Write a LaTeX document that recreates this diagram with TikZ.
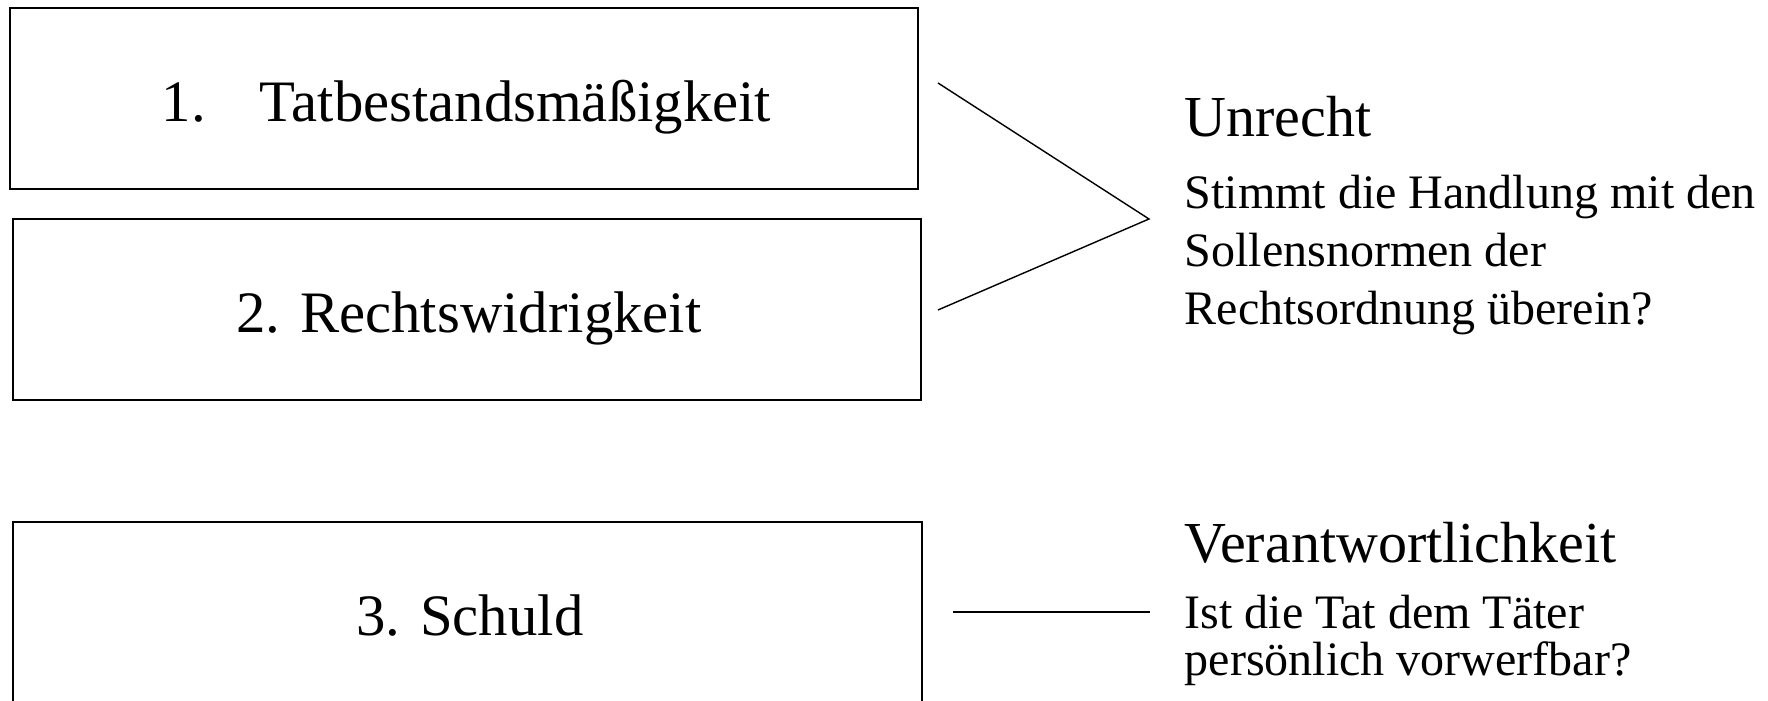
\documentclass[tikz,border=0pt]{standalone}
\usepackage{fontspec}
\setmainfont{Liberation Serif}
\begin{document}
\begin{tikzpicture}[x=0.01cm,y=-0.01cm,
  box/.style={draw, line width=0.45pt, rectangle, minimum width=9.08cm, minimum height=1.81cm, inner sep=0pt},
  big/.style={font=\fontsize{16.7pt}{20pt}\selectfont, inner sep=0pt},
  head/.style={font=\fontsize{16.5pt}{20pt}\selectfont, inner sep=0pt, anchor=base west},
  body/.style={font=\fontsize{13.66pt}{16pt}\selectfont, inner sep=0pt, anchor=base west},
  conn/.style={line width=0.4pt}]
\useasboundingbox (0,0) rectangle (1768,701);
\clip (0,0) rectangle (1768,701);
\fill[white] (0,0) rectangle (1768,701);
% boxes
\node[box] (b1) at (464,98.5) {};
\node[box] (b2) at (467,309.5) {};
\node[box] (b3) at (467.5,612.5) {};
% box texts
\node[big, anchor=base west] (t1) at (161,122) {1.\hspace{0.54cm}Tatbestandsmäßigkeit};
\node[big, anchor=base] (t2) at (469,333) {2. Rechtswidrigkeit};
\node[big, anchor=base] (t3) at (470,636) {3. Schuld};
% right texts
\node[head] (h1) at (1184,137) {Unrecht};
\node[body] (q1) at (1184,209) {Stimmt die Handlung mit den};
\node[body] (q2) at (1184,267) {Sollensnormen der};
\node[body] (q3) at (1184,325) {Rechtsordnung überein?};
\node[head] (h2) at (1184,563) {Verantwortlichkeit};
\node[body] (r1) at (1184,629) {Ist die Tat dem Täter};
\node[body] (r2) at (1184,676) {persönlich vorwerfbar?};
% connectors
\coordinate (u1) at (938,83);
\coordinate (tip) at (1149,219);
\coordinate (u2) at (938,310);
\coordinate (s1) at (953,612);
\coordinate (s2) at (1150,612);
\draw[conn] (u1) -- (tip) -- (u2);
\draw[conn] (s1) -- (s2);
\end{tikzpicture}
\end{document}
